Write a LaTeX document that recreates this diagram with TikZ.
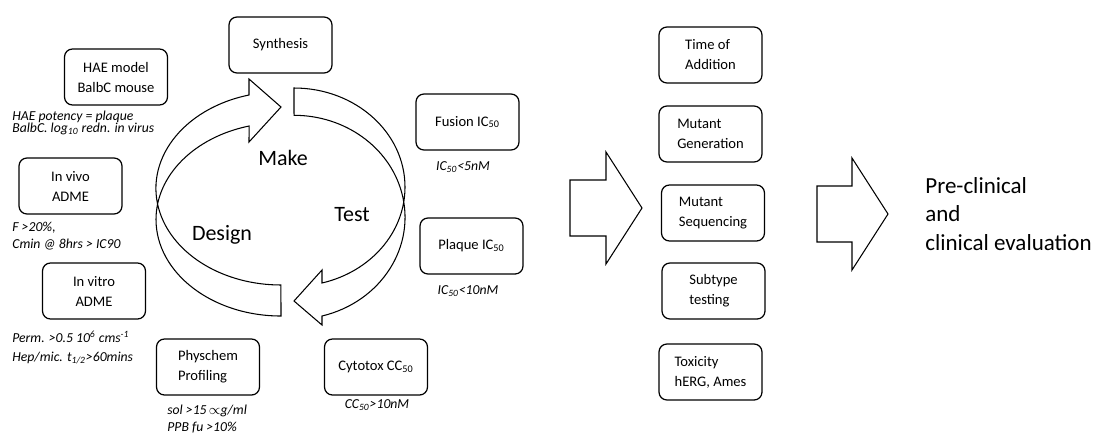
\documentclass[tikz,border=0pt]{standalone}
\usepackage{fontspec}
\setmainfont{Carlito}
\lineskiplimit=-20pt
\tikzset{
  box/.style={draw, line width=0.7pt, rounded corners=4.5pt, minimum width=2.06cm,
    minimum height=1.12cm, inner sep=1pt, align=center,
    font=\fontsize{8.3}{11.4}\selectfont},
  note/.style={anchor=west, inner sep=0pt, align=left,
    font=\itshape\fontsize{7.8}{9.7}\selectfont},
  cyclelabel/.style={font=\fontsize{12.5}{15}\selectfont},
  blockarrow/.style={draw, line width=0.6pt, fill=white, line join=miter},
}

\begin{document}
\begin{tikzpicture}[x=0.02cm, y=-0.02cm]
\useasboundingbox (0,0) rectangle (1094,434);

% Design/Make arrow (left half of the cycle)
\draw[blockarrow] (281,316) arc[start angle=90, end angle=255.2, x radius=125, y radius=96.6]
  -- (249,142) -- (281,107) -- (249,79) -- (249,95)
  arc[start angle=255.2, end angle=90, x radius=125, y radius=96.6] -- cycle;
% Test arrow (right half of the cycle)
\draw[blockarrow] (294,88) arc[start angle=270, end angle=435.4, x radius=111, y radius=99.1]
  -- (322,270) -- (294,301) -- (322,325) -- (322,316)
  arc[start angle=435.4, end angle=270, x radius=111, y radius=102] -- cycle;

\node[cyclelabel] (make) at (283,158) {Make};
\node[cyclelabel] (test) at (352,215) {Test};
\node[cyclelabel] (design) at (222,235) {Design};

% Boxes round the cycle
\node[box] (synth) at (280.5,45) {Synthesis};
\node[box] (hae) at (116,77) {HAE model\\BalbC mouse};
\node[box] (invivo) at (70.5,186) {In vivo\\ADME};
\node[box] (invitro) at (94,291) {In vitro\\ADME};
\node[box, align=left] (physchem) at (208,367) {Physchem\\Profiling};
\node[box] (cytotox) at (376,367) {Cytotox CC\textsubscript{50}};
\node[box] (fusion) at (467.5,122) {Fusion IC\textsubscript{50}};
\node[box] (plaque) at (471.5,246) {Plaque IC\textsubscript{50}};

% Criteria under the boxes
\node[note, font=\itshape\fontsize{7.8}{6.8}\selectfont] (haenote) at (12,123)
  {HAE potency = plaque\\BalbC. log\textsubscript{10} redn. in virus};
\node[note] (invivonote) at (12,236.5) {F >20\%,\\Cmin @ 8hrs > IC90};
\node[note, font=\itshape\fontsize{7.8}{10.8}\selectfont] (invitronote) at (12,347.5)
  {Perm. >0.5 10\textsuperscript{6} cms\textsuperscript{-1}\\Hep/mic. t\textsubscript{1/2}>60mins};
\node[note] (physchemnote) at (167,419.5) {sol >15\,\ensuremath{\propto}g/ml\\PPB fu >10\%};
\node[note, anchor=center] (cytotoxnote) at (377,405) {CC\textsubscript{50}>10nM};
\node[note, anchor=center] (fusionnote) at (463,167) {IC\textsubscript{50}<5nM};
\node[note, anchor=center] (plaquenote) at (468,291) {IC\textsubscript{50}<10nM};

% Later stages
\foreach \nm/\x/\y/\txt in {time/710.5/55/{Time of\\Addition},
    mutgen/710.5/134/{Mutant\\Generation}, mutseq/713/213/{Mutant\\Sequencing},
    subtype/713.5/291/{Subtype\\testing}, tox/710.5/372/{Toxicity\\hERG, Ames}}
  \node[box, align=left] (\nm) at (\x,\y) {\txt};

% Block arrows
\draw[blockarrow] (570,180) -- (606,180) -- (606,152) -- (642,208) -- (606,264)
  -- (606,236) -- (570,236) -- cycle;
\draw[blockarrow] (817,186) -- (852,186) -- (852,158) -- (888,214) -- (852,270)
  -- (852,242) -- (817,242) -- cycle;

\node[anchor=west, inner sep=0pt, align=left, font=\fontsize{13.1}{16.2}\selectfont]
  (eval) at (925,214) {Pre-clinical\\and\\clinical evaluation};

\end{tikzpicture}
\end{document}
